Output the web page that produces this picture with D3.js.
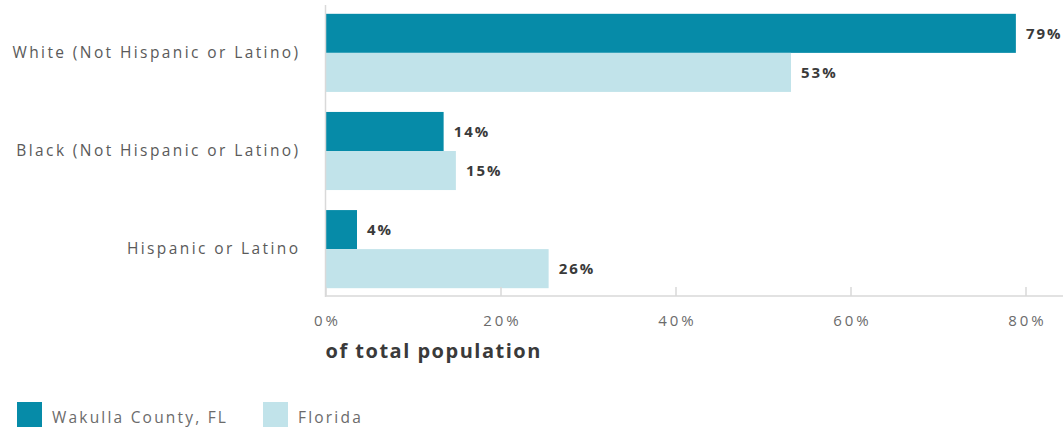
<!DOCTYPE html>
<html>
<head>
<meta charset="utf-8">
<script src="https://cdn.jsdelivr.net/npm/d3@7"></script>
<style>
  body { margin: 0; background: #fff; }
  svg { display: block; font-family: "Open Sans", sans-serif; }
</style>
</head>
<body>
<svg id="chart" width="1063" height="432"></svg>
<script>
// Population share by race/ethnicity
const categories = ["White (Not Hispanic or Latino)", "Black (Not Hispanic or Latino)", "Hispanic or Latino"];
const seriesNames = ["Wakulla County, FL", "Florida"];
const wakulla = [78.9, 13.5, 3.6];
const florida = [53.2, 14.9, 25.5];
const xTicks = [0, 20, 40, 60, 80];

const colors = ["#068ba8", "#c1e3ea"];
const svg = d3.select("#chart");

const x = d3.scaleLinear().domain([0, 80]).range([325.5, 1025.5]);
const y = d3.scaleBand().domain(categories).range([4, 298]).paddingInner(0.204).paddingOuter(0.1);
const ySub = d3.scaleBand().domain(seriesNames).range([0, y.bandwidth()]);

const rows = categories.map((c, i) => ({ cat: c, vals: [wakulla[i], florida[i]] }));

// bars with value labels
const g = svg.append("g");
rows.forEach(r => {
  r.vals.forEach((v, j) => {
    g.append("rect")
      .attr("x", x(0))
      .attr("y", y(r.cat) + ySub(seriesNames[j]))
      .attr("width", x(v) - x(0))
      .attr("height", ySub.bandwidth())
      .attr("fill", colors[j]);
    g.append("text")
      .attr("x", x(v) + 10)
      .attr("y", y(r.cat) + ySub(seriesNames[j]) + ySub.bandwidth() / 2)
      .attr("dy", "0.36em")
      .attr("font-size", 15)
      .attr("font-weight", 700)
      .attr("fill", "#3a3a3a")
      .attr("letter-spacing", 2)
      .text(d3.format(".0f")(v) + "%");
  });
});

// x axis with upward ticks
const xAxis = svg.append("g")
  .attr("transform", "translate(0,296)")
  .call(d3.axisBottom(x).tickValues(xTicks).tickSize(-9).tickPadding(19).tickFormat(d => d + "%"));
xAxis.select(".domain").remove();
xAxis.append("line").attr("x1", x(0)).attr("x2", 1063).attr("stroke", "#d9d9d9").attr("stroke-width", 1.5);
xAxis.selectAll(".tick line").attr("stroke", "#d9d9d9").attr("stroke-width", 1.5);
xAxis.selectAll(".tick text")
  .attr("fill", "#6b6b6b").attr("font-size", 15).attr("font-family", "Open Sans, sans-serif")
  .attr("letter-spacing", 3).attr("dx", 1.5);

// y axis
const yAxis = svg.append("g")
  .attr("transform", `translate(${x(0)},0)`)
  .call(d3.axisLeft(y).tickSize(0).tickPadding(25));
yAxis.select(".domain").attr("stroke", "#d9d9d9").attr("stroke-width", 1.5).attr("d", "M0,5V297");
yAxis.selectAll(".tick text")
  .attr("fill", "#5a5a5a").attr("font-size", 15.5).attr("font-family", "Open Sans, sans-serif")
  .attr("letter-spacing", 2.4);

// axis title
svg.append("text")
  .attr("x", x(0))
  .attr("y", 358)
  .attr("font-size", 20)
  .attr("font-weight", 700)
  .attr("fill", "#3a3a3a")
  .attr("letter-spacing", 1.5)
  .text("of total population");

// legend
const legendX = [17, 263];
seriesNames.forEach((s, j) => {
  svg.append("rect").attr("x", legendX[j]).attr("y", 402).attr("width", 25).attr("height", 25).attr("fill", colors[j]);
  svg.append("text")
    .attr("x", legendX[j] + 35)
    .attr("y", 418)
    .attr("dy", "0.35em")
    .attr("font-size", 15.5)
    .attr("fill", "#6b6b6b")
    .attr("letter-spacing", 2.2)
    .text(s);
});
</script>
</body>
</html>
